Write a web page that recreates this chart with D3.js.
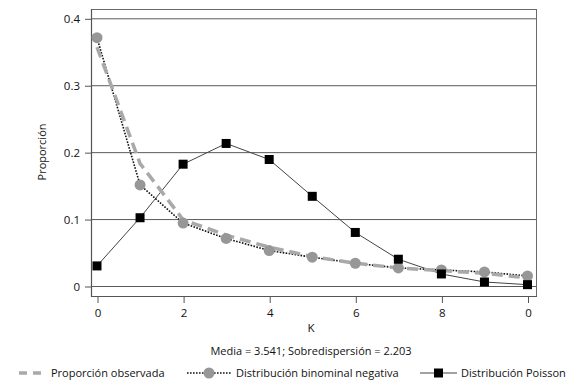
<!DOCTYPE html>
<html><head><meta charset="utf-8">
<script src="https://cdn.jsdelivr.net/npm/d3@7"></script>
<style>
body{margin:0;background:#fff;}
svg{display:block;font-family:"Open Sans","Noto Sans",sans-serif;}
</style></head>
<body><svg id="c" width="571" height="388"></svg>
<script>
const kValues = [0,1,2,3,4,5,6,7,8,9,10];
const observed = [0.357,0.183,0.099,0.076,0.058,0.044,0.034,0.027,0.023,0.019,0.012];
const negBinomial = [0.371,0.151,0.094,0.071,0.053,0.043,0.034,0.027,0.024,0.021,0.015];
const poisson = [0.030,0.102,0.182,0.213,0.189,0.134,0.080,0.040,0.018,0.006,0.002];
const xTickValues = [0,2,4,6,8,10];
const xTickLabels = ["0","2","4","6","8","0"];
const yTickValues = [0,0.1,0.2,0.3,0.4];
const yTickLabels = ["0","0.1","0.2","0.3","0.4"];
const seriesNames = ["Proporción observada","Distribución binominal negativa","Distribución Poisson"];
const subtitle = "Media = 3.541; Sobredispersión = 2.203";

const FS = "11px";
const FF = "'Open Sans','Noto Sans',sans-serif";
const svg = d3.select("#c");
const frame = {l:91, r:536, t:9, b:296};
const x = d3.scaleLinear().domain([0,10]).range([97,527.5]);
const y = d3.scaleLinear().domain([0,0.4]).range([286,18.3]);

// gridlines
svg.append("g").selectAll("line").data(yTickValues).join("line")
  .attr("x1",frame.l).attr("x2",frame.r)
  .attr("y1",d=>y(d)+0.5).attr("y2",d=>y(d)+0.5)
  .attr("stroke","#5a5a5a").attr("stroke-width",1);

// frame
svg.append("rect").attr("x",frame.l+0.5).attr("y",frame.t+0.5)
  .attr("width",frame.r-frame.l).attr("height",frame.b-frame.t)
  .attr("fill","none").attr("stroke","#6a6a6a").attr("stroke-width",1);
svg.append("line").attr("x1",frame.l+0.5).attr("x2",frame.l+0.5).attr("y1",frame.t).attr("y2",frame.b+1)
  .attr("stroke","#555").attr("stroke-width",1.2);
svg.append("line").attr("x1",frame.l).attr("x2",frame.r+1).attr("y1",frame.b+0.5).attr("y2",frame.b+0.5)
  .attr("stroke","#555").attr("stroke-width",1.2);

// y axis
const yAxis = d3.axisLeft(y).tickValues(yTickValues).tickSize(6).tickPadding(5)
  .tickFormat((d,i)=>yTickLabels[i]);
const gy = svg.append("g").attr("transform",`translate(${frame.l},0.5)`).call(yAxis);
gy.select(".domain").remove();
gy.selectAll(".tick line").attr("stroke","#555");
gy.selectAll(".tick text").attr("fill","#111").style("font-size","11.5px").style("font-family",FF);

// x axis
const xAxis = d3.axisBottom(x).tickValues(xTickValues).tickSize(7).tickPadding(6)
  .tickFormat((d,i)=>xTickLabels[i]);
const gx = svg.append("g").attr("transform",`translate(0.5,${frame.b})`).call(xAxis);
gx.select(".domain").remove();
gx.selectAll(".tick line").attr("stroke","#555");
gx.selectAll(".tick text").attr("fill","#111").style("font-size","11.5px").style("font-family",FF);

// axis titles
svg.append("text").attr("transform",`translate(46,152) rotate(-90)`)
  .attr("text-anchor","middle").attr("font-size",FS).attr("fill","#111").text("Proporción");
svg.append("text").attr("x",311).attr("y",332).attr("text-anchor","middle")
  .attr("font-size","11.5px").attr("fill","#111").text("K");
svg.append("text").attr("x",311).attr("y",355).attr("text-anchor","middle")
  .attr("font-size",FS).attr("fill","#111").text(subtitle);

const line = d3.line().x((d,i)=>x(kValues[i])).y(d=>y(d));

// Poisson
svg.append("path").datum(poisson).attr("d",line).attr("fill","none")
  .attr("stroke","#444").attr("stroke-width",1);
// NB dotted
svg.append("path").datum(negBinomial).attr("d",line).attr("fill","none")
  .attr("stroke","#111").attr("stroke-width",1.6).attr("stroke-dasharray","1.6,1.4");
// observed dashed
svg.append("path").datum(observed).attr("d",line).attr("fill","none")
  .attr("stroke","#a9a9a9").attr("stroke-width",3.5).attr("stroke-dasharray","11,6");
// NB circles
svg.append("g").selectAll("circle").data(negBinomial).join("circle")
  .attr("cx",(d,i)=>x(kValues[i])).attr("cy",d=>y(d)).attr("r",5.5).attr("fill","#979797");
// Poisson squares
svg.append("g").selectAll("rect").data(poisson).join("rect")
  .attr("x",(d,i)=>x(kValues[i])-4.5).attr("y",d=>y(d)-4.5)
  .attr("width",9).attr("height",9).attr("fill","#000");

// legend
const ly = 373;
const lg = svg.append("g");
lg.append("line").attr("x1",19).attr("x2",44).attr("y1",ly).attr("y2",ly)
  .attr("stroke","#a9a9a9").attr("stroke-width",3.5).attr("stroke-dasharray","8,6");
lg.append("text").attr("x",51).attr("y",ly+4).attr("font-size",FS).attr("fill","#111").text(seriesNames[0]);
lg.append("line").attr("x1",187).attr("x2",232).attr("y1",ly).attr("y2",ly)
  .attr("stroke","#111").attr("stroke-width",1.6).attr("stroke-dasharray","1.6,1.4");
lg.append("circle").attr("cx",209).attr("cy",ly).attr("r",5.5).attr("fill","#979797");
lg.append("text").attr("x",236).attr("y",ly+4).attr("font-size",FS).attr("fill","#111").text(seriesNames[1]);
lg.append("line").attr("x1",420).attr("x2",457).attr("y1",ly).attr("y2",ly)
  .attr("stroke","#444").attr("stroke-width",1);
lg.append("rect").attr("x",434).attr("y",ly-4.5).attr("width",9).attr("height",9).attr("fill","#000");
lg.append("text").attr("x",461).attr("y",ly+4).attr("font-size",FS).attr("fill","#111").text(seriesNames[2]);
</script></body></html>
